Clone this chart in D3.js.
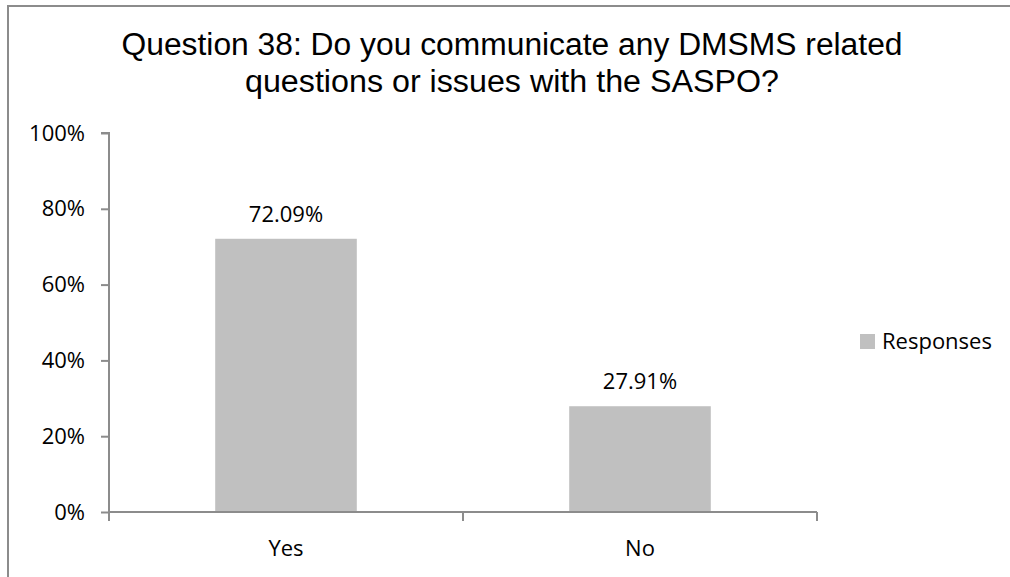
<!DOCTYPE html>
<html lang="en">
<head>
    <meta charset="UTF-8">
    <title>Question 38</title>
    <script src="https://d3js.org/d3.v7.min.js"></script>
    <style>
        body { margin: 0; background: #fff; overflow: hidden; }
        svg { display: block; }
        .title { font-family: "Liberation Sans", Arial, sans-serif; font-size: 31px; fill: #000; }
        .lbl { font-family: "Open Sans", sans-serif; font-size: 22px; fill: #000; }
    </style>
</head>
<body>
<svg width="1010" height="577"></svg>

<script>
    // chart data
    const categories = ["Yes", "No"];
    const values = [72.09, 27.91];
    const yTicks = [0, 20, 40, 60, 80, 100];
    const seriesName = "Responses";
    const titleLines = ["Question 38: Do you communicate any DMSMS related",
                        "questions or issues with the SASPO?"];

    const svg = d3.select("svg");
    const axisColor = "#8c8c8c";
    const barColor = "#c0c0c0";

    // outer frame: only top and left edges fall inside the picture
    svg.append("path")
        .attr("d", "M8,577V6H1010")
        .attr("fill", "none")
        .attr("stroke", axisColor)
        .attr("stroke-width", 2);

    // title (text in the source is slightly stretched horizontally)
    const titleWidths = [781, 534];
    svg.append("g").selectAll("text")
        .data(titleLines)
        .join("text")
        .attr("class", "title")
        .attr("x", 512)
        .attr("y", (d, i) => 55 + i * 37)
        .attr("text-anchor", "middle")
        .attr("textLength", (d, i) => titleWidths[i])
        .attr("lengthAdjust", "spacingAndGlyphs")
        .text(d => d);

    const plotLeft = 109, plotRight = 817, plotTop = 133, plotBottom = 512;

    const x = d3.scaleBand()
        .domain(categories)
        .range([plotLeft, plotRight])
        .paddingInner(0.6)
        .paddingOuter(0.3);

    const y = d3.scaleLinear()
        .domain([0, 100])
        .range([plotBottom, plotTop]);

    // bars
    svg.append("g").selectAll("rect")
        .data(values)
        .join("rect")
        .attr("x", (d, i) => x(categories[i]))
        .attr("y", d => y(d))
        .attr("width", x.bandwidth())
        .attr("height", d => plotBottom - y(d))
        .attr("fill", barColor);

    // value labels
    svg.append("g").selectAll("text")
        .data(values)
        .join("text")
        .attr("class", "lbl")
        .attr("x", (d, i) => x(categories[i]) + x.bandwidth() / 2)
        .attr("y", d => y(d) - 17)
        .attr("text-anchor", "middle")
        .text(d => d.toFixed(2) + "%");

    // y axis
    const yAxis = svg.append("g")
        .attr("transform", `translate(${plotLeft},0)`)
        .call(d3.axisLeft(y).tickValues(yTicks).tickSize(8).tickPadding(16)
            .tickFormat(d => d + "%"));
    yAxis.select(".domain").attr("stroke", axisColor).attr("stroke-width", 2)
        .attr("d", `M-8,${plotTop}H0V${plotBottom}`);
    yAxis.selectAll(".tick line").attr("stroke", axisColor).attr("stroke-width", 2);
    yAxis.selectAll(".tick text").attr("class", "lbl").attr("fill", "#000");

    // x axis with ticks between categories
    const xg = svg.append("g").attr("transform", `translate(0,${plotBottom})`);
    xg.append("path")
        .attr("d", `M${plotLeft},0H${plotRight}`)
        .attr("stroke", axisColor).attr("stroke-width", 2);
    const edges = d3.range(categories.length + 1)
        .map(i => plotLeft + i * (plotRight - plotLeft) / categories.length);
    xg.selectAll("line")
        .data(edges)
        .join("line")
        .attr("x1", d => d).attr("x2", d => d)
        .attr("y1", 0).attr("y2", 9)
        .attr("stroke", axisColor).attr("stroke-width", 2);
    xg.selectAll("text")
        .data(categories)
        .join("text")
        .attr("class", "lbl")
        .attr("x", d => x(d) + x.bandwidth() / 2)
        .attr("y", 44)
        .attr("text-anchor", "middle")
        .text(d => d);

    // legend
    const lg = svg.append("g").attr("transform", "translate(860,334)");
    lg.append("rect").attr("width", 15).attr("height", 15).attr("fill", barColor);
    lg.append("text").attr("class", "lbl").attr("x", 22).attr("y", 15).text(seriesName);
</script>
</body>
</html>
